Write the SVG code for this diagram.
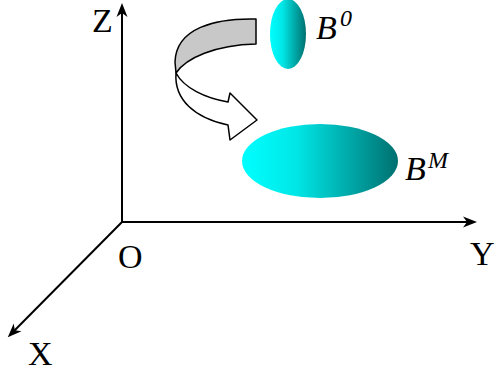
<svg xmlns="http://www.w3.org/2000/svg" width="496" height="373" viewBox="0 0 496 373">
<style>
.axis{stroke:#000;stroke-width:2;fill:none}
.lbl{font-family:"Liberation Serif","Times New Roman",serif;font-size:34px;fill:#000}
.it{font-family:"Liberation Serif","Times New Roman",serif;font-style:italic;fill:#000}
.rib{stroke:#000;stroke-width:1.5;stroke-linejoin:round}
</style>
<defs>
<marker id="ah" markerUnits="userSpaceOnUse" markerWidth="22" markerHeight="22" viewBox="-14 -8 22 16" refX="0" refY="0" orient="auto">
<path d="M6,0 L-8,-5.5 L-4,0 L-8,5.5 Z" fill="#000"/>
</marker>
<linearGradient id="cy" x1="0" y1="0" x2="1" y2="0">
<stop offset="0" stop-color="#00ffff"/>
<stop offset="0.35" stop-color="#00e6e6"/>
<stop offset="1" stop-color="#007070"/>
</linearGradient>
</defs>
<g id="connectors">
<line class="axis" x1="122" y1="223" x2="122" y2="9" marker-end="url(#ah)"/>
<line class="axis" x1="121" y1="222" x2="471" y2="222" marker-end="url(#ah)"/>
<line class="axis" x1="122" y1="222" x2="12" y2="333" marker-end="url(#ah)"/>
</g>
<g id="axis-labels">
<text class="lbl" x="92" y="32">Z</text>
<text class="lbl" x="118" y="268">O</text>
<text class="lbl" x="470" y="265">Y</text>
<text class="lbl" x="28" y="365">X</text>
</g>
<g id="rotation-arrow">
<path class="rib" fill="#c8c8c8" d="M256,19 C215,18 176,28 175,62 L176,73 C186,58 215,45 256,44 Z"/>
<path class="rib" fill="#fff" d="M176,73 C174,100 195,118 228,125 L230,140 L257,120 L230,93 L228,102 C205,98 184,88 176,73 Z"/>
</g>
<g id="B0">
<ellipse cx="288" cy="34" rx="18" ry="35" fill="url(#cy)"/>
<text class="it" x="316" y="39" font-size="34">B</text>
<text class="it" x="340" y="26" font-size="24">0</text>
</g>
<g id="BM">
<ellipse cx="320" cy="161" rx="78" ry="37" fill="url(#cy)"/>
<text class="it" x="405" y="180" font-size="34">B</text>
<text class="it" x="428" y="168" font-size="24">M</text>
</g>
</svg>
